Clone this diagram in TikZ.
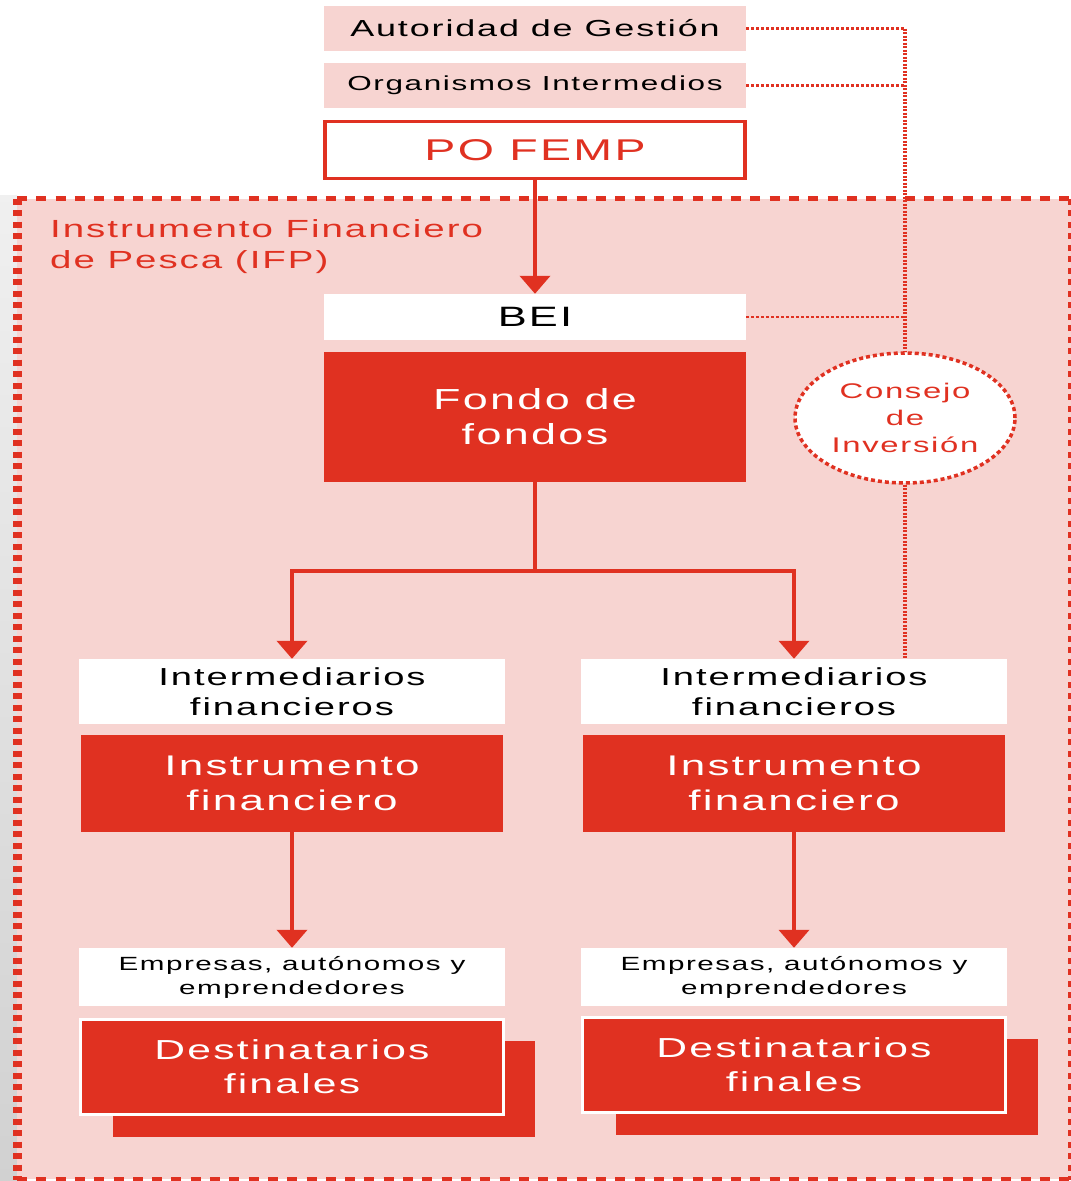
\documentclass[tikz,border=0pt]{standalone}
\usepackage{fontspec}
\setmainfont{Liberation Sans}[FakeStretch=1.55,LetterSpace=8]
\usetikzlibrary{arrows.meta,shapes.geometric,calc}
\definecolor{ifpred}{HTML}{E03121}
\definecolor{ifppink}{HTML}{F7D4D1}
\tikzset{
  box/.style={inner sep=0pt, align=center, minimum width=422pt, text=black},
  pinkbox/.style={box, fill=ifppink},
  whitebox/.style={box, fill=white},
  redbox/.style={box, fill=ifpred, text=white},
  arr/.style={draw=ifpred, line width=4pt, -{Triangle[width=30pt,length=18pt]}},
  plainline/.style={draw=ifpred, line width=4pt},
  dotline/.style={draw=ifpred, line width=2.5pt, dash pattern=on 3pt off 2pt},
  vdotline/.style={draw=ifpred, line width=3.5pt, dash pattern=on 2pt off 1.5pt},
  hborder/.style={draw=ifpred, line width=5.5pt, dash pattern=on 10pt off 9.3pt},
  vborder/.style={draw=ifpred, line width=9pt, dash pattern=on 6pt off 5.5pt},
}
\begin{document}
\begin{tikzpicture}[x=1pt,y=-1pt]
\useasboundingbox (0,0) rectangle (1071,1181);
\fill[white] (0,0) rectangle (1071,1181);
\shade[top color=black!6, bottom color=black!18] (0,195) rectangle (17,1181);
% IFP dashed region
\fill[ifppink] (17,198.5) rectangle (1072,1179);
\coordinate (bnw) at (17,198.5);
\coordinate (bne) at (1072,198.5);
\coordinate (bsw) at (17,1179.5);
\coordinate (bse) at (1072,1179.5);
\draw[hborder] (bnw) -- (bne);
\draw[hborder] (bsw) -- (bse);
\draw[vborder] (bnw) -- (bsw);
\draw[vborder] (bne) -- (bse);
\node[anchor=north west, inner sep=0pt, align=left, text=ifpred, font=\fontsize{24.8}{31}\selectfont] (ifp) at (50,219) {Instrumento Financiero\\de Pesca (IFP)};
% top boxes
\node[pinkbox, minimum height=45pt, font=\fontsize{23.2}{28}\selectfont] (ag) at (535,28.5) {Autoridad de Gestión};
\node[pinkbox, minimum height=45pt, font=\fontsize{20.3}{24}\selectfont] (oi) at (535,85.5) {Organismos Intermedios};
\node[whitebox, draw=ifpred, line width=3.5pt, minimum width=420pt, minimum height=57pt, text=ifpred, font=\fontsize{30}{36}\selectfont] (po) at (535,150) {PO FEMP};
\node[whitebox, minimum height=46pt, font=\fontsize{28}{32}\selectfont] (bei) at (535,317) {BEI};
\node[redbox, minimum height=130pt, font=\fontsize{29}{35}\selectfont] (fdf) at (535,417) {Fondo de\\fondos};
% consejo
\node[ellipse, draw=ifpred, fill=white, line width=3.5pt, dash pattern=on 4pt off 3pt, minimum width=220pt, minimum height=130pt, inner sep=0pt, align=center, text=ifpred, font=\fontsize{21.2}{27}\selectfont] (ci) at (905,418) {Consejo\\de\\Inversión};
% intermediaries
\node[whitebox, minimum width=426pt, minimum height=65pt, font=\fontsize{24.6}{30}\selectfont] (il) at (292,691.5) {Intermediarios\\financieros};
\node[whitebox, minimum width=426pt, minimum height=65pt, font=\fontsize{24.6}{30}\selectfont] (ir) at (794,691.5) {Intermediarios\\financieros};
\node[redbox, minimum height=97pt, font=\fontsize{28.4}{35}\selectfont] (fl) at (292,783.5) {Instrumento\\financiero};
\node[redbox, minimum height=97pt, font=\fontsize{28.4}{35}\selectfont] (fr) at (794,783.5) {Instrumento\\financiero};
\node[whitebox, minimum width=426pt, minimum height=58pt, font=\fontsize{19.1}{24}\selectfont] (el) at (292,977) {Empresas, autónomos y\\emprendedores};
\node[whitebox, minimum width=426pt, minimum height=58pt, font=\fontsize{19.1}{24}\selectfont] (er) at (794,977) {Empresas, autónomos y\\emprendedores};
% destinatarios
\node[redbox, minimum width=422pt, minimum height=96pt] (dls) at (324,1089) {};
\node[redbox, draw=white, line width=3pt, minimum width=423pt, minimum height=95pt, font=\fontsize{27.5}{34}\selectfont] (dl) at (292,1067) {Destinatarios\\finales};
\node[redbox, minimum width=422pt, minimum height=96pt] (drs) at (827,1086.5) {};
\node[redbox, draw=white, line width=3pt, minimum width=423pt, minimum height=95pt, font=\fontsize{27.5}{34}\selectfont] (dr) at (794,1064.5) {Destinatarios\\finales};
% connectors
\draw[arr] (po.south) -- (bei.north);
\coordinate (split) at (535,571);
\draw[plainline] (fdf.south) -- (split);
\draw[arr] (split) -| (il.north);
\draw[arr] (split) -| (ir.north);
\draw[arr] (fl.south) -- (el.north);
\draw[arr] (fr.south) -- (er.north);
% dotted links
\coordinate (vtop) at (ag.east -| ci.north);
\draw[dotline] (ag.east) -- (vtop);
\draw[vdotline] (vtop) -- (ci.north);
\draw[dotline] (oi.east) -- (oi.east -| ci.north);
\draw[dotline] (bei.east) -- (bei.east -| ci.north);
\draw[vdotline] (ci.south) -- (ci.south |- ir.north);
\end{tikzpicture}
\end{document}
